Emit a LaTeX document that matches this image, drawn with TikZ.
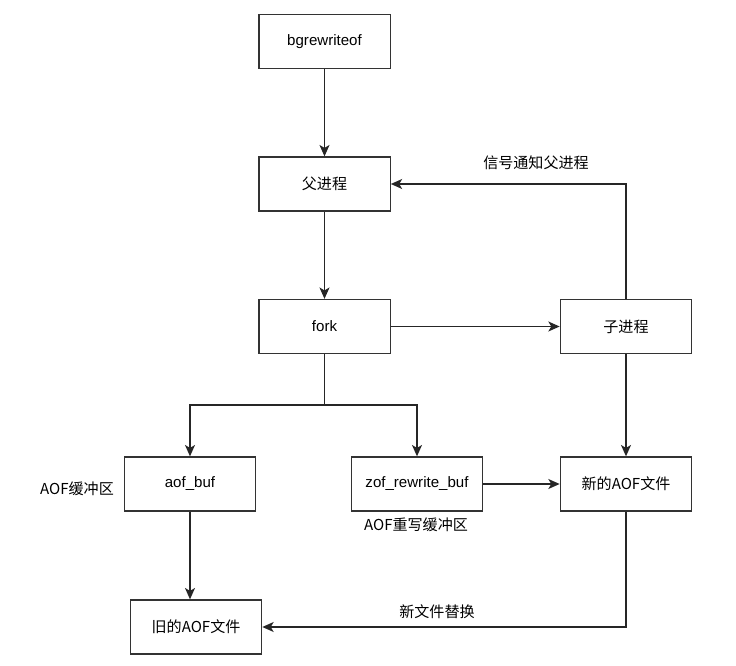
\documentclass[tikz,border=0pt]{standalone}
\usepackage{fontspec}
\setmainfont{Liberation Sans}
\newfontfamily\cjk{Noto Sans CJK SC}
\usetikzlibrary{arrows.meta}

\begin{document}
\begin{tikzpicture}[x=0.75pt,y=-0.75pt,>={Stealth[length=8.5pt,width=7.5pt,inset=2.2pt]},
  box/.style={draw=black!80,line width=1pt,minimum width=98.5pt,minimum height=40.5pt,inner sep=0pt,font=\fontsize{11.3}{13}\selectfont},
  lbl/.style={inner sep=0pt,font=\fontsize{11.3}{13}\selectfont},
  link/.style={line width=1pt,draw=black!85}]
  \useasboundingbox (0,0) rectangle (736,666);
  \node[box] (bg) at (324.5,41.5) {bgrewriteof};
  \node[box] (parent) at (324.5,184) {\cjk 父进程};
  \node[box] (fork) at (324.5,326.5) {fork};
  \node[box] (child) at (626,326.5) {\cjk 子进程};
  \node[box] (aofbuf) at (190,484) {aof\_buf};
  \node[box] (rwbuf) at (417,484) {zof\_rewrite\_buf};
  \node[box] (newaof) at (626,484) {\cjk 新的AOF文件};
  \node[box] (oldaof) at (196,627) {\cjk 旧的AOF文件};
  \node[lbl] (signal) at (536,163) {\cjk 信号通知父进程};
  \node[lbl] (aoflbl) at (77,489) {\cjk AOF缓冲区};
  \node[lbl] (rwlbl) at (416,525) {\cjk AOF重写缓冲区};
  \node[lbl] (replace) at (437,612) {\cjk 新文件替换};
  \coordinate (split) at (324.5,405);
  \draw[link,->] (bg) -- (parent);
  \draw[link,->] (parent) -- (fork);
  \draw[link,->] (fork) -- (child);
  \draw[link] (fork) -- (split);
  \draw[link,->] (split) -| (aofbuf);
  \draw[link,->] (split) -| (rwbuf);
  \draw[link,->] (child) |- (parent);
  \draw[link,->] (child) -- (newaof);
  \draw[link,->] (rwbuf) -- (newaof);
  \draw[link,->] (newaof) |- (oldaof);
  \draw[link,->] (aofbuf.south) -- (aofbuf.south |- oldaof.north);
\end{tikzpicture}
\end{document}
